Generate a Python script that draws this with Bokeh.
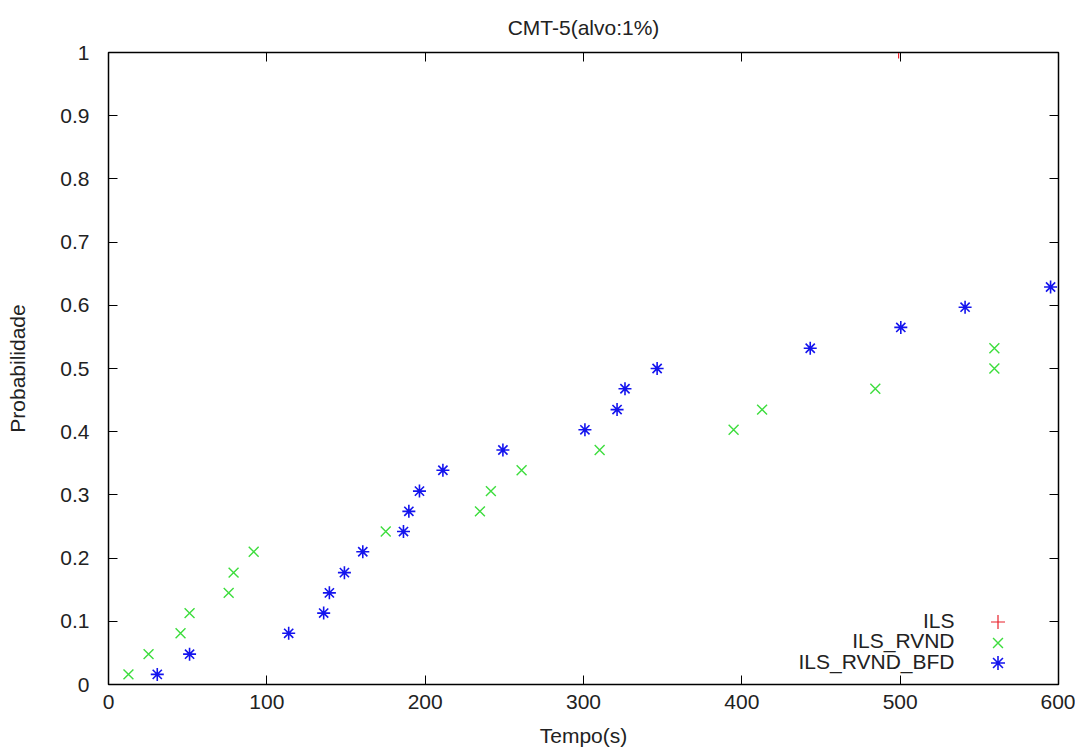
from bokeh.plotting import figure
from bokeh.models import (Range1d, LinearAxis, SingleIntervalTicker, NumeralTickFormatter,
                          CustomJSTickFormatter, Legend, LegendItem, Label)
from bokeh.embed import file_html
from bokeh.resources import INLINE

# ---- data ----
ils_x = [499]
ils_y = [1.0]

rvnd_x = [12.6, 25.3, 45.5, 51.2, 75.9, 79.0, 91.7, 175.1, 234.6, 241.5, 260.9,
          310.2, 394.8, 412.8, 484.3, 559.5, 559.5]
rvnd_y = [0.016, 0.048, 0.081, 0.113, 0.145, 0.177, 0.210, 0.242, 0.274, 0.306, 0.339,
          0.371, 0.403, 0.435, 0.468, 0.500, 0.532]

bfd_x = [30.8, 51.2, 113.8, 135.9, 139.5, 149.0, 160.6, 186.3, 189.7, 196.4, 211.2,
         249.1, 300.9, 321.2, 326.2, 346.5, 443.2, 500.4, 541.0, 595.0]
bfd_y = [0.016, 0.048, 0.081, 0.113, 0.145, 0.177, 0.210, 0.242, 0.274, 0.306, 0.339,
         0.371, 0.403, 0.435, 0.468, 0.500, 0.532, 0.565, 0.597, 0.629]

series_names = ["ILS", "ILS_RVND", "ILS_RVND_BFD"]
title_text = "CMT-5(alvo:1%)"
x_label = "Tempo(s)"
y_label = "Probabilidade"

FONT = "'Liberation Sans', Arial, sans-serif"
FS = "21px"
TXT = "#222222"
RED = "#e8202a"
GREEN = "#3ddd3d"
BLUE = "#1414ee"

p = figure(output_backend="svg", toolbar_location=None,
           x_range=Range1d(0, 600), y_range=Range1d(0, 1),
           frame_width=950, frame_height=632,
           min_border_left=108, min_border_right=17, min_border_top=52, min_border_bottom=59,
           title=title_text)

p.title.align = "center"
p.title.offset = -3
p.title.standoff = 27
p.title.text_font = FONT
p.title.text_font_size = FS
p.title.text_font_style = "normal"
p.title.text_color = TXT

p.grid.visible = False
p.outline_line_color = "black"
p.outline_line_width = 1.5
p.background_fill_color = "white"
p.border_fill_color = "white"

for ax in (p.xaxis[0], p.yaxis[0]):
    ax.major_tick_in = 9
    ax.major_tick_out = 0
    ax.minor_tick_line_color = None
    ax.axis_line_color = "black"
    ax.major_tick_line_color = "black"
    ax.major_label_text_font = FONT
    ax.major_label_text_font_size = FS
    ax.major_label_text_color = TXT
    ax.axis_label_text_font = FONT
    ax.axis_label_text_font_size = FS
    ax.axis_label_text_font_style = "normal"
    ax.axis_label_text_color = TXT

p.xaxis[0].ticker = SingleIntervalTicker(interval=100, num_minor_ticks=0)
p.yaxis[0].ticker = SingleIntervalTicker(interval=0.1, num_minor_ticks=0)
p.yaxis[0].formatter = NumeralTickFormatter(format="0.[0]")
p.xaxis[0].axis_label = x_label
p.yaxis[0].axis_label = y_label
p.xaxis[0].major_label_standoff = 10
p.yaxis[0].major_label_standoff = 19
p.xaxis[0].axis_label_standoff = 12
p.yaxis[0].axis_label_standoff = 28

blank = CustomJSTickFormatter(code="return ''")
top = LinearAxis(ticker=SingleIntervalTicker(interval=100, num_minor_ticks=0), formatter=blank,
                 major_tick_in=9, major_tick_out=0, minor_tick_line_color=None,
                 major_label_standoff=0, major_label_text_font_size="1px")
right = LinearAxis(ticker=SingleIntervalTicker(interval=0.1, num_minor_ticks=0), formatter=blank,
                   major_tick_in=9, major_tick_out=0, minor_tick_line_color=None,
                   major_label_standoff=0, major_label_text_font_size="1px")
p.add_layout(top, "above")
p.add_layout(right, "right")

r_ils = p.scatter(ils_x, ils_y, marker="cross", size=12, line_color=RED, line_width=1.2)
r_rvnd = p.scatter(rvnd_x, rvnd_y, marker="x", size=14, line_color=GREEN, line_width=1.4)
r_bfd = p.scatter(bfd_x, bfd_y, marker="asterisk", size=13, line_color=BLUE, line_width=1.6)

# gnuplot-style key: text right-aligned, symbol on the right
for i, (name, r) in enumerate(zip(series_names, (r_ils, r_rvnd, r_bfd))):
    yc = 62.3 - 20.5 * i
    p.add_layout(Legend(items=[LegendItem(label=" ", renderers=[r])],
                        location=(872, yc - 17.5), padding=0, margin=0, spacing=0,
                        glyph_width=35, glyph_height=35, label_height=35, label_width=1,
                        label_standoff=0, label_text_font_size="1px",
                        border_line_alpha=0, background_fill_alpha=0))
    p.add_layout(Label(x=846, y=yc + 2, x_units="screen", y_units="screen",
                       text=name, text_align="right", text_baseline="middle",
                       text_font=FONT, text_font_size=FS, text_color=TXT))

open("out.html", "w").write(file_html(p, INLINE))
